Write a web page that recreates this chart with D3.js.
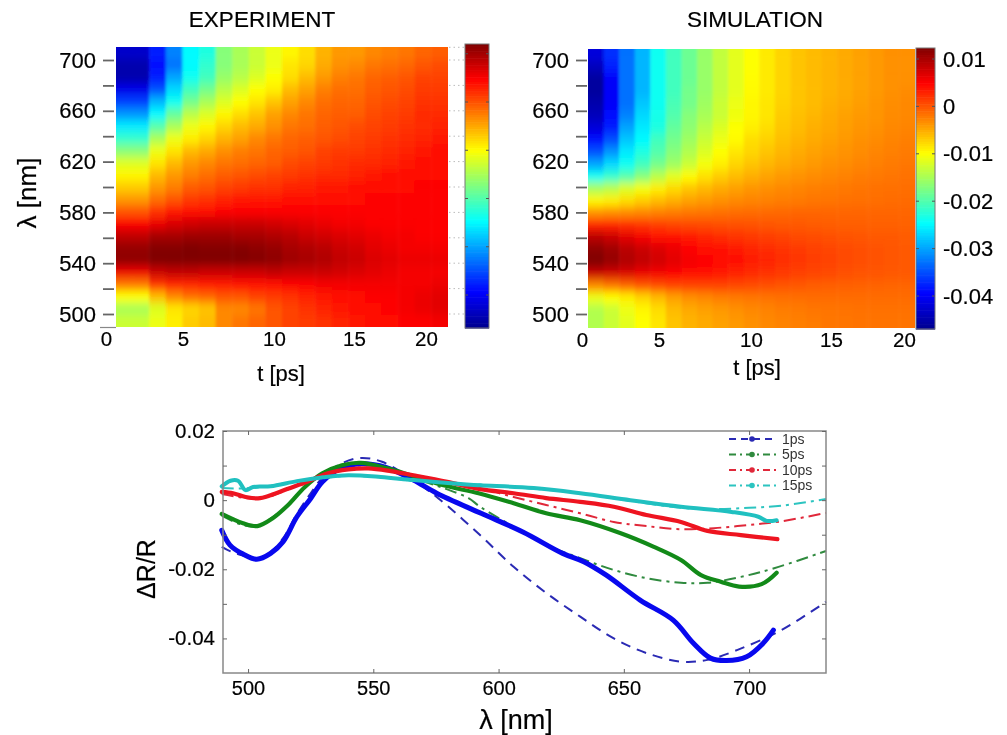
<!DOCTYPE html>
<head>
  <meta charset="utf-8">
  <title>Experiment and simulation</title>
  <script src="https://d3js.org/d3.v7.min.js"></script>
  <style>
    body { margin: 0; background: #fff; }
    svg { display: block; filter: blur(0.45px); }
    text { font-family: "Liberation Sans", Arial, sans-serif; fill: #000; stroke: #000; stroke-width: 0.2px; }
    .axis path, .axis line { stroke: #666; }
  </style>
</head>
<body>
<svg id="chart" width="1007" height="735"></svg>
<script>
// heat map values are in units of 0.001, rows run from 710 nm down to 490 nm
var wavelengths = [710,700,690,680,670,660,650,640,630,620,610,600,590,580,570,560,550,540,530,520,510,500,490];
var expTimes = d3.range(1, 21);
var simTimes = d3.range(0, 21);

var expRows = [
  [-43,-43,-38,-32,-25,-23,-17,-15,-13,-11,-9.5,-8,-5.5,-4,-4,-3,-2.5,-2,-1,-0.5],
  [-45,-45,-39,-33,-25,-22,-17,-15,-13,-11,-8.5,-7.5,-5,-3.5,-3,-2,-1.5,-1,0,0.5],
  [-45,-45,-38,-30,-24,-21,-16,-14,-12,-10,-8,-6,-4,-2.5,-2,-1,-0.5,0,1,1],
  [-41,-41,-35,-27,-21,-18,-14,-12,-10,-9,-6,-4.5,-2.5,-1.5,-1.5,-0.5,0,0.5,1.5,1.5],
  [-36,-36,-29,-24,-18,-15,-12,-10,-8.5,-6.5,-4.5,-3,-1.5,-1,-1,0,0.5,1,2,2],
  [-31,-31,-25,-19,-14,-12,-9.5,-8,-6.5,-4.5,-3,-2,-1,-0.5,-0.5,0.5,1,1.5,2.5,2.5],
  [-26,-26,-20,-15,-11,-9.5,-7.5,-6,-5,-3.5,-2,-1.5,-0.5,0,0.5,1,1.5,2,2.5,3],
  [-22,-22,-15,-11,-9,-7.5,-5.5,-4.5,-3,-2,-1,-0.5,0,0.5,1,1.5,2,2.5,3,3.5],
  [-17,-17,-11,-8.5,-6,-5,-3.5,-2.5,-2,-1,-0.5,0,1,1.5,1.5,2,2.5,3,3.5,4],
  [-12,-12,-8.5,-6,-4,-3,-2,-1.5,-1,-0.5,0.5,1,1.5,2,2.5,2.5,3,3.5,4,4.5],
  [-9.5,-9.5,-6,-4,-2.5,-1.5,-0.5,0,0.5,1,1.5,2,2.5,2.5,3,3.5,4,4,4.5,4.5],
  [-7,-7,-4,-2.5,-0.5,0,1,1.5,2,2,3,3,3.5,3.5,4,4.5,4.5,4.5,5,5],
  [-4,-4,-1.5,0,1.5,2,3,3.5,3.5,3.5,4,4,4.5,4.5,4.5,5,5,5,5,5],
  [0,0,2,3.5,4,4.5,5,5,5,5,5,5,5,5,5,5,5,5,5,5],
  [5,5,6,7,7.5,8,8,8,8,7.5,7,6.5,6,5.5,5.5,5,5,5,5,5],
  [8.5,8.5,10,10,10.5,10.5,10.5,10,10,9.5,9,8,7.5,7,6.5,6,5.5,5.5,5,5],
  [11,11,12,12,12.5,12,12,12,11.5,11,10,9.5,9,8,7.5,6.5,6,5.5,5.5,5.5],
  [11.5,11.5,12.3,12.5,12.3,12.3,12.3,12.3,12,11.5,10.5,10,9.5,8.5,8,7,6.5,6,6,6],
  [6,6,8,8.5,8.5,8,8,8,8,8.5,8,8,8,7.5,7,6.5,6,5.5,5.5,5.5],
  [-2,-2,2,3,3,3.5,3.5,4,4,4.5,5,5,5.5,5.5,5.5,5.5,5.5,5.5,5.5,6],
  [-10,-10,-6,-3,-1.5,-1,0,0,1,1.5,2,3,3.5,4,4.5,5,5,5.5,6,6.5],
  [-15,-15,-12,-8.5,-7.5,-6.5,-3,-3,-2,0,1,2,3,3.5,4,4.5,5,5.5,6,6.5],
  [-13,-13,-11,-9,-7,-6,-3,-2,-1,0,1,1.5,2,3,3.5,4,4.5,5,5,5.5]
];

var simRows = [
  [-42,-37,-33,-29,-24,-21,-18.5,-16,-13.5,-11.5,-10,-8.7,-7.5,-6.5,-6,-5.5,-5,-4.5,-4,-3.5,-3.5],
  [-44,-38,-33,-29,-24,-21,-18.5,-16,-13.5,-11.5,-10,-8.7,-7.5,-6.5,-6,-5.5,-5,-4.5,-4,-3.5,-3.5],
  [-46,-40,-33,-29,-24,-21,-18.5,-16,-13.5,-11.5,-9.8,-8.7,-7.5,-6.5,-6,-5.5,-5,-4.5,-4,-3.5,-3.5],
  [-46,-40,-33,-29,-24,-21,-18,-16,-13.5,-11.5,-9.7,-8.7,-7.5,-6.5,-6,-5.5,-5,-4.5,-4,-3.5,-3.2],
  [-45,-40,-33,-28,-24,-20.5,-18,-15.5,-13,-11,-9.5,-8.5,-7.3,-6.5,-6,-5.3,-4.8,-4.3,-3.8,-3.3,-3],
  [-44,-39,-32,-27,-23.5,-20,-17,-15,-13,-10.8,-9.5,-8.5,-7,-6.2,-5.7,-5,-4.5,-4,-3.7,-3.2,-3],
  [-42,-38,-30,-26,-23,-19,-16.5,-14,-12,-10,-9,-8,-6.7,-6,-5.3,-4.8,-4.3,-3.8,-3.5,-3,-2.8],
  [-39,-35,-28,-25,-21,-18,-15.5,-13,-11,-9.7,-8,-7.3,-6.3,-5.6,-5,-4.5,-4,-3.5,-3.2,-2.8,-2.5],
  [-35,-31,-26,-23,-20,-17,-14.5,-12,-10,-8.5,-7.5,-6.5,-5.7,-5,-4.5,-4,-3.6,-3.2,-2.8,-2.5,-2.2],
  [-30,-27,-24,-21,-18,-15.5,-13,-10.5,-9,-7.5,-6.5,-5.7,-5,-4.5,-4,-3.5,-3.2,-2.8,-2.5,-2.2,-2],
  [-24,-22,-20,-17,-14,-11.5,-9.7,-8.2,-7,-6,-5.2,-4.6,-4,-3.6,-3.2,-2.9,-2.6,-2.3,-2.1,-1.9,-1.7],
  [-15,-14,-12,-10.5,-9,-7.8,-6.6,-5.8,-5,-4.4,-3.8,-3.4,-3.1,-2.8,-2.5,-2.3,-2.1,-1.9,-1.7,-1.6,-1.5],
  [-9.5,-9,-8,-7,-6,-5.2,-4.5,-4,-3.5,-3.1,-2.8,-2.6,-2.4,-2.2,-2,-1.9,-1.7,-1.6,-1.5,-1.4,-1.3],
  [-3.5,-3.2,-3,-2.8,-2.5,-2.2,-2,-1.8,-1.6,-1.4,-1.3,-1.2,-1.1,-1,-1,-1,-1,-1,-1,-1,-1],
  [3,3,2.5,2,1.5,1,0.8,0.6,0.4,0.3,0.2,0,-0.2,-0.3,-0.4,-0.5,-0.6,-0.6,-0.7,-0.7,-0.8],
  [9,8,6.5,5.5,4.5,4,3.5,3,2.5,2,1.7,1.3,1,0.7,0.5,0.3,0.1,0,-0.2,-0.3,-0.4],
  [11.5,10.5,9,8,7,6,5,4.5,4,3.5,3,2.5,2,1.6,1.2,0.9,0.6,0.4,0.2,0,-0.2],
  [12.3,11,9.5,8.5,7.5,6.5,5.5,5,4.5,4,3.3,2.8,2.3,1.8,1.4,1,0.7,0.4,0.2,0,-0.2],
  [8,7.5,7,6,5.5,5,4.5,4,3.5,3,2.5,2,1.6,1.2,0.9,0.6,0.3,0.1,0,-0.2,-0.3],
  [-3,-2,-1,0,0.5,1,1,1,1,0.8,0.5,0.3,0,-0.3,-0.5,-0.6,-0.7,-0.8,-0.9,-1,-1],
  [-11,-10,-9,-7.5,-6,-4.5,-3.5,-3,-2.5,-2.2,-2,-1.8,-1.6,-1.5,-1.4,-1.4,-1.4,-1.4,-1.4,-1.4,-1.4],
  [-14.5,-13,-11,-9.5,-8,-6,-5,-4.5,-4,-3.5,-3,-2.7,-2.4,-2.2,-2,-1.9,-1.8,-1.7,-1.7,-1.7,-1.7],
  [-14.5,-13,-11.5,-10,-8.5,-6.5,-5.5,-5,-4.5,-4,-3.5,-3,-2.7,-2.5,-2.3,-2,-1.9,-1.8,-1.8,-1.8,-1.8]
];

var waveTicks = d3.range(500, 701, 20);
var timeTicks = [0, 5, 10, 15, 20];
var barTicks = [0.01, 0, -0.01, -0.02, -0.03, -0.04];

// spectra, [wavelength nm, dR/R], measured = thick, fit = dashed
var measured1 = [[489.5,-.0087],[492.8,-.013],[498,-.0156],[503.5,-.0171],[509,-.0154],[514,-.012],[519.5,-.0048],[525,.0005],[529.7,.0053],[537,.0092],[545,.0105],[555,.0095],[566,.0058],[575.3,.002],[593,-.0038],[609.7,-.0092],[625.6,-.0154],[634,-.0178],[643,-.0217],[656.5,-.0289],[669.7,-.0347],[677.8,-.0414],[684.6,-.0457],[691,-.0464],[699,-.0453],[705.6,-.0414],[709.7,-.0376]];
var measured5 = [[489.5,-.004],[498,-.0067],[503.7,-.0075],[509.7,-.0053],[516,-.0014],[522.7,.0038],[529.5,.0077],[537.5,.0101],[545,.0108],[555.6,.0092],[565,.0072],[578,.0043],[592,.002],[606,-.0009],[619,-.0038],[632.6,-.0058],[648.5,-.0095],[662,-.0135],[672.8,-.0173],[680.8,-.0217],[688.7,-.0236],[696,-.025],[705,-.0243],[711,-.021]];
var measured10 = [[489.5,.0024],[494,.002],[499,.0009],[504,.0005],[509,.0014],[515.6,.0032],[523.6,.0053],[531.6,.0077],[540,.0089],[548,.0092],[557,.0084],[566,.0072],[579.5,.0053],[592.6,.0032],[606,.002],[619,.0006],[632.6,-.0005],[646,-.0019],[659,-.0043],[672.8,-.0063],[683.4,-.0089],[696.7,-.0101],[711.3,-.0113]];
var measured15 = [[489.5,.004],[493,.0056],[496,.0056],[499,.0029],[502,.0038],[509,.004],[519.5,.0055],[530,.0066],[540,.0072],[553,.0067],[566,.0058],[586,.0046],[592.6,.0043],[614,.0035],[632.6,.002],[652.6,0],[672.8,-.0019],[693,-.0034],[703.7,-.0048],[707,-.006],[711,-.0058]];
var fit1 = [[489.5,-.0135],[493,-.0148],[498,-.016],[503.5,-.0168],[509,-.015],[514,-.011],[519.5,-.004],[525,.002],[530,.0068],[537,.0105],[544.7,.0122],[553.5,.0111],[566,.0058],[576,.0005],[592.6,-.0101],[606,-.0193],[619.3,-.027],[632.6,-.0337],[646,-.04],[659.3,-.0443],[672.8,-.0467],[683.4,-.0462],[695.4,-.0433],[712.8,-.0376],[730.7,-.0294]];
var fit5 = [[489.5,-.0045],[498,-.0072],[503.7,-.0074],[509.7,-.005],[516,-.0012],[522.7,.004],[529.5,.0078],[537.5,.0098],[545,.0104],[555.6,.0092],[565,.0066],[578,.0035],[588,.0006],[592.6,-.0019],[606,-.0077],[619.3,-.013],[632.6,-.0168],[646,-.0202],[659.3,-.0226],[672.8,-.0239],[683.4,-.0239],[696.7,-.0222],[710,-.0197],[730.7,-.0147]];
var fit10 = [[489.5,.0018],[499,.0006],[504,.0004],[509,.0012],[515.6,.003],[523.6,.0055],[531.6,.008],[540,.0092],[548,.0094],[557,.0084],[566,.0072],[579.5,.005],[592.6,.0034],[606,.0009],[619,-.0014],[632.6,-.0038],[646,-.0063],[659,-.0075],[672.8,-.0084],[686,-.0081],[699.5,-.0072],[713,-.0061],[730.7,-.0037]];
var fit15 = [[489.5,.0035],[499,.0034],[509,.0042],[519.5,.0055],[530,.0064],[540,.007],[553,.0066],[566,.0056],[586,.0047],[592.6,.0045],[614,.0033],[632.6,.002],[652.6,-.0002],[672.8,-.0022],[686,-.0026],[700,-.0022],[713,-.0016],[730.7,.0003]];

var spectraTicksX = [500, 550, 600, 650, 700];
var spectraTicksY = [0.02, 0.01, 0, -0.01, -0.02, -0.03, -0.04];
var legendNames = ["1ps", "5ps", "10ps", "15ps"];
var legendColors = ["#2a2ab4", "#2f8a3e", "#e0283a", "#2cc4c0"];
var legendDashes = ["10,7", "12,5,3,5", "12,5,3,5", "12,5,3,5"];

var svg = d3.select("#chart");

// jet colour map, same for the two maps and both bars
var barMin = -47, barMax = 12.3;
var jet = d3.scaleLinear()
  .domain([0, 0.125, 0.375, 0.625, 0.875, 1].map(function(f) { return barMin + f * (barMax - barMin); }))
  .range(["#00008f", "#0000ff", "#00ffff", "#ffff00", "#ff0000", "#800000"])
  .clamp(true);

var defs = svg.append("defs");
// the source maps are smooth along wavelength and blocky along time
defs.append("filter").attr("id", "smear")
  .attr("filterUnits", "userSpaceOnUse")
  .attr("x", 0).attr("y", 0).attr("width", 1007).attr("height", 735)
  .append("feGaussianBlur").attr("stdDeviation", "1.4 5");

function heatMap(rows, times, box, tickRange, tickX, clipId) {
  var xBand = d3.scaleBand().domain(times).range([box.x0, box.x1]);
  var yBand = d3.scaleBand().domain(wavelengths).range([box.y0, box.y1]);
  var y = d3.scaleLinear().domain([500, 700]).range([314, 60]);
  var x = d3.scaleLinear().domain(timeTicks).range(tickRange);

  defs.append("clipPath").attr("id", clipId).append("rect")
    .attr("x", box.x0).attr("y", box.y0)
    .attr("width", box.x1 - box.x0).attr("height", box.y1 - box.y0);

  var pad = 16; // outer cells overdraw so the blur doesn't fade at the edges
  var cells = svg.append("g").attr("clip-path", "url(#" + clipId + ")")
    .append("g").attr("filter", "url(#smear)");
  rows.forEach(function(row, r) {
    row.forEach(function(v, c) {
      var top = r == 0 ? pad : 0, bot = r == rows.length - 1 ? pad : 0;
      var lft = c == 0 ? pad : 0, rgt = c == row.length - 1 ? pad : 0;
      cells.append("rect")
        .attr("x", xBand(times[c]) - lft)
        .attr("y", yBand(wavelengths[r]) - top)
        .attr("width", xBand.bandwidth() + lft + rgt + 0.5)
        .attr("height", yBand.bandwidth() + top + bot + 0.5)
        .attr("fill", jet(v));
    });
  });

  var yAxis = d3.axisLeft(y).tickValues(waveTicks).tickSize(11).tickPadding(7)
    .tickFormat(function(d) { return d % 40 == 20 ? d : ""; });
  var yg = svg.append("g").attr("class", "axis").attr("transform", "translate(" + tickX + ",0)").call(yAxis);
  yg.select(".domain").remove();
  yg.selectAll("line").attr("stroke-width", 1.8);
  yg.selectAll("text").style("font-size", "22px");

  var xAxis = d3.axisBottom(x).tickValues(timeTicks).tickSize(0).tickPadding(4);
  var xg = svg.append("g").attr("class", "axis").attr("transform", "translate(0," + box.y1 + ")").call(xAxis);
  xg.select(".domain").remove();
  xg.selectAll("text").style("font-size", "20.5px");
}

heatMap(expRows, expTimes, {x0: 116, x1: 448, y0: 47, y1: 327}, [106, 183, 274, 354, 426], 114, "clipExp");
heatMap(simRows, simTimes, {x0: 588, x1: 915, y0: 49, y1: 328}, [582, 659, 751, 831, 904], 587, "clipSim");

// base line between 0 and the start of the left map
svg.append("line").attr("x1", 100).attr("x2", 116).attr("y1", 327.5).attr("y2", 327.5)
  .attr("stroke", "#888").attr("stroke-width", 1.2);

// dotted grid in the empty strip next to the left map
var stripY = d3.scaleLinear().domain([500, 700]).range([314, 60]);
svg.append("g").selectAll("line").data([710].concat(waveTicks)).enter().append("line")
  .attr("x1", 449).attr("x2", 464)
  .attr("y1", function(d) { return stripY(d); })
  .attr("y2", function(d) { return stripY(d); })
  .attr("stroke", "#bbb").attr("stroke-dasharray", "1.5,3");

function colorBar(x0, x1, y0, y1, tickScale) {
  var n = 120;
  var steps = d3.range(n);
  var g = svg.append("g");
  g.selectAll("rect").data(steps).enter().append("rect")
    .attr("x", x0).attr("width", x1 - x0)
    .attr("y", function(i) { return y0 + i * (y1 - y0) / n; })
    .attr("height", (y1 - y0) / n + 0.6)
    .attr("fill", function(i) { return jet(barMax - (i + 0.5) / n * (barMax - barMin)); });
  g.append("rect").attr("x", x0).attr("y", y0).attr("width", x1 - x0).attr("height", y1 - y0)
    .attr("fill", "none").attr("stroke", "#777").attr("stroke-width", 1);
  g.selectAll(".bt").data(barTicks).enter().append("path").attr("class", "bt")
    .attr("d", function(d) {
      var y = tickScale(d);
      return "M" + x0 + "," + y + "h3M" + x1 + "," + y + "h-3";
    })
    .attr("stroke", "#555").attr("stroke-width", 1);
}

var leftBarScale = d3.scaleLinear().domain([0, -0.04]).range([102, 295]);
var rightBarScale = d3.scaleLinear().domain([0.01, -0.04]).range([59, 296]);
colorBar(465, 489, 44, 328, leftBarScale);
colorBar(916, 935, 48, 329, rightBarScale);

var barAxis = d3.axisRight(rightBarScale).tickValues(barTicks).tickSize(0).tickPadding(8)
  .tickFormat(function(d) { return d == 0 ? "0" : String(d); });
var bg = svg.append("g").attr("class", "axis").attr("transform", "translate(935,0)").call(barAxis);
bg.select(".domain").remove();
bg.selectAll("text").style("font-size", "22px");

// titles
svg.append("text").attr("x", 262).attr("y", 27).attr("text-anchor", "middle").style("font-size", "22.5px").text("EXPERIMENT");
svg.append("text").attr("x", 755).attr("y", 27).attr("text-anchor", "middle").style("font-size", "22.5px").text("SIMULATION");
svg.append("text").attr("x", 281).attr("y", 381).attr("text-anchor", "middle").style("font-size", "22px").text("t [ps]");
svg.append("text").attr("x", 757).attr("y", 375).attr("text-anchor", "middle").style("font-size", "22px").text("t [ps]");
svg.append("text").attr("transform", "translate(36,193) rotate(-90)").attr("text-anchor", "middle").style("font-size", "26px").text("λ [nm]");

// spectra panel
var specX = d3.scaleLinear().domain([490, 730.7]).range([223, 826]);
var specY = d3.scaleLinear().domain([-0.05, 0.02]).range([673, 431]);
var specLine = d3.line()
  .x(function(d) { return specX(d[0]); })
  .y(function(d) { return specY(d[1]); })
  .curve(d3.curveCatmullRom);

var fits = [fit1, fit5, fit10, fit15];
var measures = [measured1, measured5, measured10, measured15];
var measureColors = ["#0808ee", "#128a18", "#ee1420", "#20c0c0"];
var measureWidths = [5, 4.2, 4.2, 4];

fits.forEach(function(f, i) {
  svg.append("path").attr("d", specLine(f)).attr("fill", "none")
    .attr("stroke", legendColors[i]).attr("stroke-width", 2)
    .attr("stroke-dasharray", legendDashes[i]);
});
measures.forEach(function(m, i) {
  svg.append("path").attr("d", specLine(m)).attr("fill", "none")
    .attr("stroke", measureColors[i]).attr("stroke-width", measureWidths[i])
    .attr("stroke-linejoin", "round").attr("stroke-linecap", "round");
});

svg.append("rect").attr("x", 223).attr("y", 431).attr("width", 603).attr("height", 242)
  .attr("fill", "none").attr("stroke", "#888").attr("stroke-width", 1.5);

function specAxes(axis, translate, size) {
  var g = svg.append("g").attr("class", "axis").attr("transform", translate).call(axis);
  g.select(".domain").remove();
  g.selectAll("line").attr("stroke", "#666");
  g.selectAll("text").style("font-size", size);
  return g;
}
specAxes(d3.axisBottom(specX).tickValues(spectraTicksX).tickSizeInner(-4).tickSizeOuter(0).tickPadding(8), "translate(0,673)", "20px");
specAxes(d3.axisTop(specX).tickValues(spectraTicksX).tickSizeInner(-4).tickSizeOuter(0).tickFormat(""), "translate(0,431)", "0px");
specAxes(d3.axisLeft(specY).tickValues(spectraTicksY).tickSizeInner(-4).tickSizeOuter(0).tickPadding(8)
  .tickFormat(function(d) { return Math.round(d * 100) % 2 == 0 ? (d == 0 ? "0" : String(d)) : ""; }), "translate(223,0)", "20.5px");
specAxes(d3.axisRight(specY).tickValues(spectraTicksY).tickSizeInner(-4).tickSizeOuter(0).tickFormat(""), "translate(826,0)", "0px");

svg.append("text").attr("x", 516).attr("y", 729).attr("text-anchor", "middle").style("font-size", "27px").text("λ [nm]");
svg.append("text").attr("transform", "translate(155,569) rotate(-90)").attr("text-anchor", "middle").style("font-size", "25px").text("ΔR/R");

// legend
var legend = svg.append("g").selectAll("g").data(legendNames).enter().append("g")
  .attr("transform", function(d, i) { return "translate(0," + (439 + i * 15.5) + ")"; });
legend.append("line").attr("x1", 729).attr("x2", 777)
  .attr("stroke", function(d, i) { return legendColors[i]; })
  .attr("stroke-width", 1.8)
  .attr("stroke-dasharray", function(d, i) { return i == 0 ? "7,5" : "7,4,2,4"; });
legend.append("circle").attr("cx", 752).attr("r", 2.8)
  .attr("fill", function(d, i) { return legendColors[i]; });
legend.append("text").attr("x", 782).attr("y", 4.5).style("font-size", "14px").style("fill", "#333")
  .style("stroke", "none")
  .text(function(d) { return d; });
</script>
</body>
</html>
